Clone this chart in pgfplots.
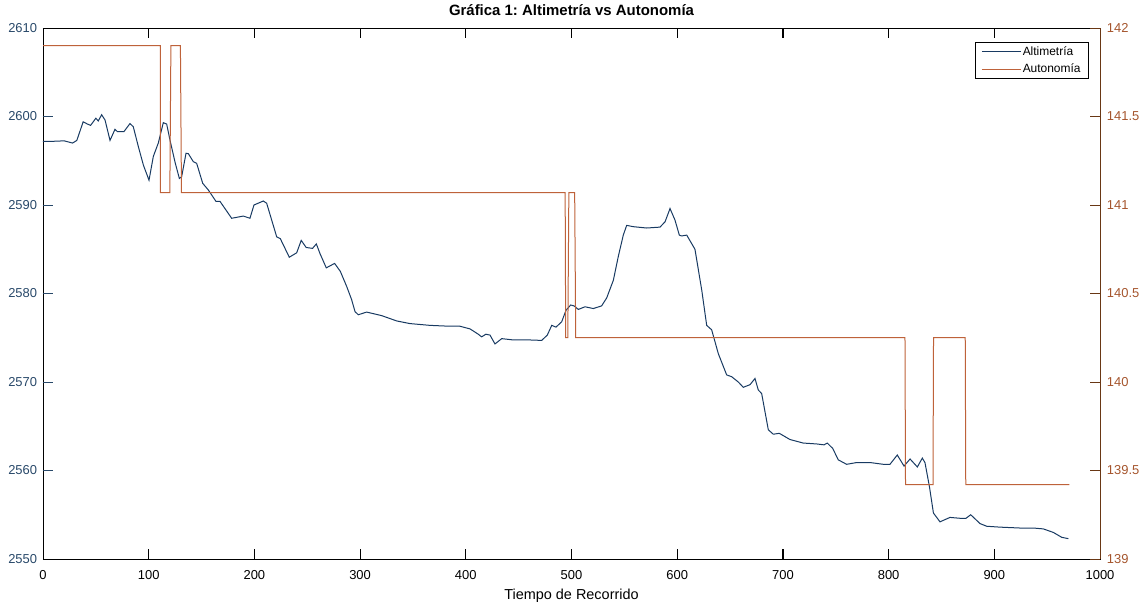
\documentclass[border=0pt]{standalone}
\usepackage{fontspec}
\setmainfont{Liberation Sans}
\usepackage{pgfplots}
\pgfplotsset{compat=1.18}
\definecolor{alti}{RGB}{24,58,98}
\definecolor{autoc}{RGB}{190,98,58}
\definecolor{lefttick}{RGB}{40,72,105}
\definecolor{rspine}{RGB}{105,55,20}
\definecolor{righttick}{RGB}{165,85,45}
\frenchspacing
\begin{document}
\begin{tikzpicture}
\useasboundingbox (-43bp,-48bp) rectangle (1103bp,559bp);
\begin{axis}[
  scale only axis, width=1057bp, height=531bp,
  at={(0,0)}, anchor=south west,
  xmin=0, xmax=1000, ymin=2550, ymax=2610,
  xtick={0,100,...,1000}, ytick={2550,2560,...,2610},
  ytick pos=left, xtick pos=both,
  tick align=inside,
  major tick length=10bp,
  every major tick/.append style={line width=0.9bp, draw=black},
  axis line style={line width=0.8bp},
  /pgf/number format/assume math mode=true,
  /pgf/number format/1000 sep={},
  xticklabel style={font=\fontsize{13}{13}\selectfont, anchor=base, inner sep=0pt, yshift=-20.3bp},
  yticklabel style={font=\fontsize{13}{13}\selectfont, text=lefttick, anchor=east, inner sep=0pt, xshift=-5.7bp},
  xlabel={Tiempo de Recorrido},
  xlabel style={font=\fontsize{14.5}{15}\selectfont, at={(axis description cs:0.5,0)}, anchor=base, inner sep=0pt, yshift=-40.5bp},
  title={Gráfica 1: Altimetría vs Autonomía},
  title style={font=\bfseries\fontsize{15}{15}\selectfont, at={(axis description cs:0.5,1)}, anchor=base, inner sep=0pt, yshift=6.3bp},
  unbounded coords=jump,
]
% tick marks (inward), drawn through the axis
\addplot[black, line width=0.8bp, forget plot] table {
x y
100 2550
100 2551.13
nan nan
200 2550
200 2551.13
nan nan
300 2550
300 2551.13
nan nan
400 2550
400 2551.13
nan nan
500 2550
500 2551.13
nan nan
600 2550
600 2551.13
nan nan
700 2550
700 2551.13
nan nan
800 2550
800 2551.13
nan nan
900 2550
900 2551.13
nan nan
100 2610
100 2608.87
nan nan
200 2610
200 2608.87
nan nan
300 2610
300 2608.87
nan nan
400 2610
400 2608.87
nan nan
500 2610
500 2608.87
nan nan
600 2610
600 2608.87
nan nan
700 2610
700 2608.87
nan nan
800 2610
800 2608.87
nan nan
900 2610
900 2608.87
};
\addplot[lefttick, line width=0.8bp, forget plot] table {
x y
0 2560
9.46 2560
nan nan
0 2570
9.46 2570
nan nan
0 2580
9.46 2580
nan nan
0 2590
9.46 2590
nan nan
0 2600
9.46 2600
};
\addplot[alti, line width=1bp] table {
x y
0 2597.2
10 2597.2
20 2597.25
28 2597.0
32 2597.3
38 2599.4
42 2599.15
45 2599.0
50 2599.8
52.3 2599.5
55.5 2600.2
58.7 2599.6
63.4 2597.3
68.1 2598.55
70.3 2598.3
76.6 2598.3
82.3 2599.2
85.4 2598.85
90.2 2596.6
95 2594.5
100.3 2592.8
104.4 2595.5
109.1 2597.0
113.8 2599.3
117 2599.15
120.2 2597.3
125 2594.8
129 2593.0
131.2 2593.2
135.3 2595.85
137.5 2595.8
142.2 2594.9
145.4 2594.7
151.1 2592.45
156.4 2591.7
163.7 2590.4
167.5 2590.4
178.5 2588.5
189.5 2588.75
195.8 2588.5
199.6 2590.0
208.4 2590.45
211.6 2590.2
221.1 2586.4
224.5 2586.2
233 2584.1
240 2584.6
244.3 2586.0
249 2585.2
255 2585.1
258.6 2585.6
262.1 2584.5
268 2582.9
275.9 2583.4
281.3 2582.5
287.3 2580.8
292 2579.3
295.2 2577.95
298.3 2577.6
306.2 2577.9
320.4 2577.5
334.6 2576.9
347.2 2576.6
366.1 2576.4
385 2576.3
394.5 2576.3
404 2576.0
411.8 2575.4
415 2575.1
419 2575.4
422.9 2575.3
427.6 2574.3
434 2574.9
445 2574.75
460.7 2574.75
471.8 2574.7
477.1 2575.3
481.3 2576.4
485.3 2576.2
490.7 2576.8
494.8 2578.1
499.2 2578.7
502.4 2578.6
506.5 2578.2
512.8 2578.5
520.6 2578.3
528.5 2578.6
533.3 2579.5
539.6 2581.5
544.3 2584.2
549 2586.6
552.2 2587.7
558.5 2587.55
571.1 2587.4
583.7 2587.5
588.5 2588.1
593.2 2589.6
597.9 2588.3
602 2586.6
604.2 2586.5
609 2586.6
616.8 2585.0
623.2 2580.4
627.9 2576.4
632.6 2575.9
638.9 2573.2
646.8 2570.8
651.5 2570.6
657.8 2570.0
662.5 2569.4
668.9 2569.7
673.6 2570.4
676.7 2569.1
679.9 2568.7
686.2 2564.6
690.9 2564.1
696.6 2564.2
706.7 2563.5
719.3 2563.1
732 2563.0
738.9 2562.9
742 2563.1
747.1 2562.5
752.4 2561.2
760.3 2560.7
769.8 2560.9
782.4 2560.9
795 2560.7
801.3 2560.7
808.2 2561.75
814.6 2560.5
820.3 2561.3
827.2 2560.4
831.9 2561.4
834.4 2560.9
838.6 2558.2
842.4 2555.2
848.6 2554.2
858.1 2554.7
867.6 2554.6
873.2 2554.6
877.7 2555.0
886.5 2554.0
892.8 2553.7
905.4 2553.6
924.3 2553.5
936.9 2553.5
946.4 2553.4
955.9 2553.0
963.8 2552.45
970.1 2552.3
};
\end{axis}
\begin{axis}[
  scale only axis, width=1057bp, height=531bp,
  at={(0,0)}, anchor=south west,
  xmin=0, xmax=1000, ymin=139, ymax=142,
  axis x line=none, axis y line*=right,
  y axis line style={-, draw=rspine, line width=0.8bp},
  ytick={139,139.5,...,142},
  tick align=inside,
  major tick length=10bp,
  every major tick/.append style={line width=0.9bp, draw=rspine},
  /pgf/number format/assume math mode=true,
  yticklabel style={font=\fontsize{13}{13}\selectfont, text=righttick, anchor=west, inner sep=0pt, xshift=6.7bp},
  unbounded coords=jump,
  legend cell align=left,
  legend image code/.code={\draw[#1] (0bp,0bp) -- (39bp,0bp);},
  legend style={at={(rel axis cs:0.989,0.974)}, anchor=north east, draw=black, line width=0.6bp, fill=white,
    font=\fontsize{12}{12}\selectfont, inner xsep=6bp, inner ysep=3bp,
    nodes={inner sep=1.5bp}, row sep=4bp},
]
\addplot[rspine, line width=0.8bp, forget plot] table {
x y
1000 139.5
990.54 139.5
nan nan
1000 140
990.54 140
nan nan
1000 140.5
990.54 140.5
nan nan
1000 141
990.54 141
nan nan
1000 141.5
990.54 141.5
};
\addlegendimage{alti, line width=1bp}
\addlegendentry{Altimetría}
\addplot[autoc, line width=1bp] table {
x y
0 141.9
111 141.9
111 141.07
120 141.07
121 141.9
130 141.9
131 141.07
494 141.07
494.5 140.25
496.5 140.25
497.5 141.07
503 141.07
504 140.25
815.5 140.25
816 139.42
842 139.42
842.5 140.25
872.5 140.25
873 139.42
971 139.42
};
\addlegendentry{Autonomía}
\end{axis}
\end{tikzpicture}
\end{document}
